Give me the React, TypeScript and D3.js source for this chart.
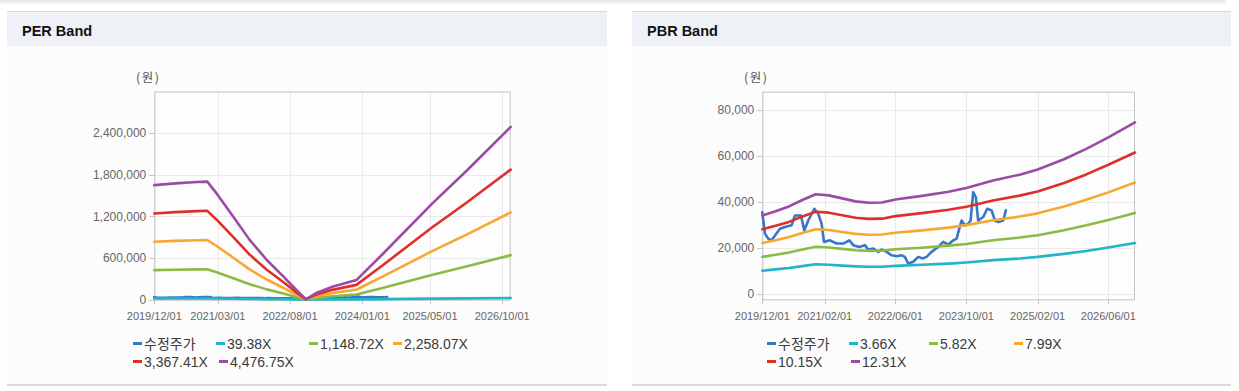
import React from "react";
import * as d3 from "d3";

// ---------- Data ----------
const PRICE_DATES = ["2019-12-01","2019-12-19","2020-01-11","2020-01-29","2020-02-19","2020-03-31","2020-05-04","2020-06-19","2020-07-12","2020-08-22","2020-09-14","2020-10-11","2020-11-22","2020-12-19","2021-01-11","2021-01-27","2021-03-09","2021-04-24","2021-06-09","2021-07-20","2021-08-16","2021-09-26","2021-11-04","2021-11-27","2021-12-31","2022-02-04","2022-02-26","2022-04-02","2022-05-06","2022-06-09","2022-07-14","2022-08-05","2022-08-28","2022-10-02","2022-11-05","2022-12-05","2023-01-01","2023-02-04","2023-03-22","2023-04-25","2023-05-30","2023-07-03","2023-07-26","2023-08-29","2023-09-21","2023-10-14","2023-10-30","2023-11-17","2023-12-05","2023-12-21","2024-01-25","2024-02-21","2024-03-22","2024-04-14","2024-05-07","2024-06-10","2024-06-28"];
const PRICE_VALUES = [35500,26200,24000,23300,24700,28300,29100,29800,34100,34100,27600,31900,37000,34800,30500,22600,23300,21900,21900,23300,21200,20400,21200,19300,19700,18300,19300,18300,16800,16400,16800,16100,13200,14000,16100,15400,16100,18300,20400,22600,21400,23300,24000,31900,29800,30500,31900,44200,42000,31900,33400,37000,36300,31900,31200,31900,36300];

// PER band
const PER_DATES = ["2019-12-01","2020-05-01","2020-10-01","2020-12-15","2021-02-20","2021-06-20","2021-10-15","2022-02-15","2022-06-15","2022-09-15","2022-11-22","2023-02-01","2023-06-01","2023-11-20","2024-06-01","2025-05-20","2026-01-15","2026-12-01"];
const PER_39 = [14500,14700,14900,15000,13500,10500,7600,5000,2900,1200,0,800,1600,2500,5900,12200,16300,21900];
const PER_1148 = [423000,430000,435000,436000,393000,307000,221000,146000,85000,35000,1000,23000,47000,72000,171000,357000,475000,639000];
const PER_2258 = [832000,845000,855000,857000,772000,603000,434000,288000,166000,69000,2000,45000,93000,141000,336000,701000,933000,1256000];
const PER_3367 = [1241000,1260000,1275000,1279000,1151000,899000,647000,429000,248000,103000,2000,68000,139000,211000,502000,1046000,1392000,1873000];
const PER_4476 = [1650000,1675000,1695000,1700000,1530000,1195000,860000,570000,330000,137000,3000,90000,185000,280000,667000,1390000,1850000,2490000];
const PER_LABELS = ["수정주가","39.38X","1,148.72X","2,258.07X","3,367.41X","4,476.75X"];
const PER_Y_TICKS = [0,600000,1200000,1800000,2400000];
const PER_X_TICKS = ["2019-12-01","2021-03-01","2022-08-01","2024-01-01","2025-05-01","2026-10-01"];

// PBR band
const PBR_DATES = ["2019-12-01","2020-03-01","2020-06-01","2020-09-01","2020-12-01","2021-03-01","2021-06-01","2021-09-01","2021-12-01","2022-03-01","2022-06-01","2022-12-01","2023-06-01","2023-10-01","2024-04-01","2024-10-01","2025-02-01","2025-08-01","2026-01-01","2026-06-01","2026-12-01"];
const PBR_366 = [10100,10700,11300,12100,12900,12700,12300,12000,11800,11800,12200,12700,13200,13700,14700,15400,16100,17400,18700,20200,22100];
const PBR_582 = [16100,17000,18000,19300,20500,20200,19600,19000,18700,18800,19400,20100,21000,21700,23300,24500,25500,27700,29800,32100,35200];
const PBR_799 = [22100,23300,24700,26500,28100,27800,26900,26100,25700,25800,26600,27600,28800,29900,32000,33600,35000,38000,40900,44100,48400];
const PBR_1015 = [28100,29600,31300,33600,35700,35300,34200,33100,32600,32700,33800,35100,36600,37900,40600,42700,44500,48200,51900,56100,61400];
const PBR_1231 = [34100,35900,38000,40800,43300,42800,41500,40200,39600,39700,41000,42600,44400,46000,49300,51800,54000,58500,63000,68000,74500];
const PBR_LABELS = ["수정주가","3.66X","5.82X","7.99X","10.15X","12.31X"];
const PBR_Y_TICKS = [0,20000,40000,60000,80000];
const PBR_X_TICKS = ["2019-12-01","2021-02-01","2022-06-01","2023-10-01","2025-02-01","2026-06-01"];

const COLORS = ["#3677c9","#22b4c9","#8bba45","#f8a832","#df2f29","#9a4ba4"];

const X_START = "2019-12-01";
const X_END = "2026-12-01";

const parse = d3.timeParse("%Y-%m-%d");
const fmtTick = d3.timeFormat("%Y/%m/%d");
const fmtNum = d3.format(",");

type Pt = { d: Date; v: number };
const zip = (dates: string[], vals: number[]): Pt[] =>
  vals.slice(0, dates.length).map((v, i) => ({ d: parse(dates[i]) as Date, v }));

type LegendPos = { x: number; row: number };

function BandChart(props: {
  panelX: number;
  panelW: number;
  title: string;
  plot: { l: number; r: number; t: number; b: number };
  yDomain: [number, number];
  yTicks: number[];
  xTicks: string[];
  bandDates: string[];
  bands: number[][];
  labels: string[];
  legend: LegendPos[];
}) {
  const { panelX, panelW, title, plot, yDomain, yTicks, xTicks, bandDates, bands, labels, legend } = props;
  const x = d3.scaleTime().domain([parse(X_START) as Date, parse(X_END) as Date]).range([plot.l, plot.r]);
  const y = d3.scaleLinear().domain(yDomain).range([plot.b, plot.t]);
  const line = d3.line<Pt>().x((p) => x(p.d)).y((p) => y(p.v));
  const series: Pt[][] = [zip(PRICE_DATES, PRICE_VALUES), ...bands.map((b) => zip(bandDates, b))];
  const tickFont = "'Liberation Sans', Arial, sans-serif";
  const legFont = "'Liberation Sans', Arial, 'Noto Sans CJK KR', sans-serif";
  const rowY = [343.5, 361.5];
  return (
    <g>
      {/* panel */}
      <rect x={panelX} y={11} width={panelW} height={374} fill="#fcfcfc" />
      <rect x={panelX} y={11} width={panelW} height={35} fill="#eef2f7" />
      <line x1={panelX} x2={panelX + panelW} y1={11.5} y2={11.5} stroke="#d6d9de" />
      <line x1={panelX} x2={panelX + panelW} y1={385} y2={385} stroke="#cfcfcf" strokeWidth={1.6} />
      <text x={panelX + 15} y={36} fontFamily="'Liberation Sans', Arial, sans-serif" fontWeight="bold" fontSize={14.5} fill="#111">
        {title}
      </text>
      {/* unit */}
      <text x={plot.l - 6} y={82} textAnchor="middle" fontFamily="'Noto Sans CJK KR', sans-serif" fontSize={12.5} fill="#555" letterSpacing={1.5}>
        (원)
      </text>
      {/* plot bg */}
      <rect x={plot.l} y={plot.t} width={plot.r - plot.l} height={plot.b - plot.t} fill="#fdfdfd" />
      {/* grid */}
      {yTicks.map((t) => (
        <line key={"gy" + t} x1={plot.l} x2={plot.r} y1={Math.round(y(t)) + 0.5} y2={Math.round(y(t)) + 0.5} stroke="#e9e9e9" />
      ))}
      {xTicks.map((t) => (
        <line key={"gx" + t} x1={Math.round(x(parse(t) as Date)) + 0.5} x2={Math.round(x(parse(t) as Date)) + 0.5} y1={plot.t} y2={plot.b} stroke="#e9e9e9" />
      ))}
      <rect x={plot.l + 0.5} y={plot.t + 0.5} width={plot.r - plot.l - 1} height={plot.b - plot.t} fill="none" stroke="#c4c4c4" />
      {/* y ticks */}
      {yTicks.map((t) => (
        <g key={"yt" + t}>
          <line x1={plot.l - 5} x2={plot.l} y1={Math.round(y(t)) + 0.5} y2={Math.round(y(t)) + 0.5} stroke="#c4c4c4" />
          <text x={plot.l - 8} y={y(t)} dy="0.35em" textAnchor="end" fontFamily={tickFont} fontSize={12} fill="#666">
            {fmtNum(t)}
          </text>
        </g>
      ))}
      {/* x ticks */}
      {xTicks.map((t) => {
        const xx = x(parse(t) as Date);
        return (
          <g key={"xt" + t}>
            <line x1={Math.round(xx) + 0.5} x2={Math.round(xx) + 0.5} y1={plot.b} y2={plot.b + 5} stroke="#c4c4c4" />
            <text x={xx} y={319.5} textAnchor="middle" fontFamily={tickFont} fontSize={11} fill="#666">
              {fmtTick(parse(t) as Date)}
            </text>
          </g>
        );
      })}
      {/* series */}
      {series.map((s, i) => (
        <path key={"s" + i} d={line(s) || ""} fill="none" stroke={COLORS[i]} strokeWidth={2.6} strokeLinejoin="round" strokeLinecap="round" />
      ))}
      {/* legend */}
      {labels.map((lab, i) => {
        const p = legend[i];
        const yy = rowY[p.row];
        return (
          <g key={"lg" + i}>
            <line x1={p.x} x2={p.x + 9} y1={yy} y2={yy} stroke={COLORS[i]} strokeWidth={3} />
            <text x={p.x + 11} y={yy} dy="0.36em" fontFamily={legFont} fontSize={14} fill="#3a3a3a">
              {lab}
            </text>
          </g>
        );
      })}
    </g>
  );
}

export default function App() {
  return (
    <svg width={1239} height={391} style={{ position: "absolute", left: 0, top: 0, background: "#fff" }}>
      <defs>
        <linearGradient id="shadow" x1="0" y1="0" x2="0" y2="1">
          <stop offset="0" stopColor="#000" stopOpacity={0.1} />
          <stop offset="1" stopColor="#000" stopOpacity={0} />
        </linearGradient>
      </defs>
      <rect x={0} y={0} width={1239} height={391} fill="#fff" />
      <rect x={0} y={0} width={1226} height={6} fill="url(#shadow)" />
      <BandChart
        panelX={7}
        panelW={600}
        title="PER Band"
        plot={{ l: 154.3, r: 510.7, t: 91.5, b: 299.5 }}
        yDomain={[0, 3000000]}
        yTicks={PER_Y_TICKS}
        xTicks={PER_X_TICKS}
        bandDates={PER_DATES}
        bands={[PER_39, PER_1148, PER_2258, PER_3367, PER_4476]}
        labels={PER_LABELS}
        legend={[{ x: 133, row: 0 }, { x: 216, row: 0 }, { x: 309, row: 0 }, { x: 393, row: 0 }, { x: 133, row: 1 }, { x: 219, row: 1 }]}
      />
      <BandChart
        panelX={632}
        panelW={599}
        title="PBR Band"
        plot={{ l: 762.3, r: 1135, t: 91.7, b: 299.3 }}
        yDomain={[-2300, 87800]}
        yTicks={PBR_Y_TICKS}
        xTicks={PBR_X_TICKS}
        bandDates={PBR_DATES}
        bands={[PBR_366, PBR_582, PBR_799, PBR_1015, PBR_1231]}
        labels={PBR_LABELS}
        legend={[{ x: 767, row: 0 }, { x: 849, row: 0 }, { x: 929, row: 0 }, { x: 1014, row: 0 }, { x: 767, row: 1 }, { x: 851, row: 1 }]}
      />
    </svg>
  );
}
